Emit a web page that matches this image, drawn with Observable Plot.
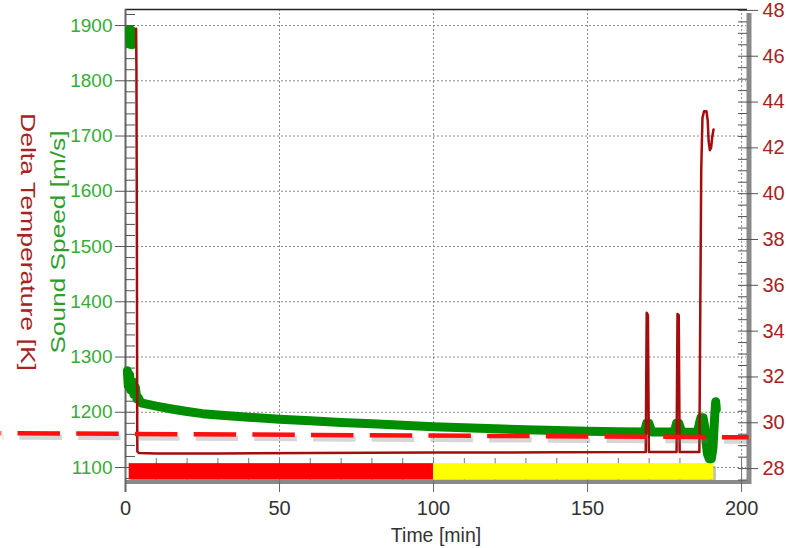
<!DOCTYPE html>
<html><head><meta charset="utf-8">
<script src="https://cdn.jsdelivr.net/npm/d3@7"></script>
<script src="https://cdn.jsdelivr.net/npm/@observablehq/plot@0.6"></script>
<style>body{margin:0;background:#fff;}</style>
</head><body><div id="chart"></div>
<script>
// ---- data ----
// Sound speed [m/s] vs time [min]; null breaks the line
const soundTime  = [1.3, 1.5, 1.75, 2.0, 2.2, null,
  0.6, 0.9, 1.3, 1.7, 2.2, 2.7, 3.2, 3.7, 4.2, 5, 10, 15, 20, 25, 30, 40, 50, 60, 70, 80, 90, 100, 110, 120, 130, 140, 150, 160,
  168.3, 168.8, 169.2, 169.9, 170.4, 170.9, 175, 178.0, 178.5, 178.9, 179.6, 180.1, 180.6, 185,
  185.8, 186.3, 186.8, 187.5, 188.0, 188.4, 188.9, 189.5, 190.2, 190.7, 191.0, 191.3, 191.6, 191.8];
const soundSpeed = [1893, 1866, 1892, 1865, 1890, null,
  1275, 1248, 1268, 1240, 1256, 1232, 1245, 1224, 1226, 1217, 1211, 1206, 1201.5, 1197.5, 1195, 1191, 1187.5, 1184.5, 1181.5, 1179, 1176.5, 1174, 1172, 1170, 1168.5, 1167, 1165.8, 1164.8,
  1164.5, 1172, 1180, 1180, 1172, 1164.3, 1164.2, 1164.2, 1172, 1180, 1180, 1172, 1164, 1163.8,
  1165, 1180, 1190, 1190, 1175, 1150, 1125, 1116, 1116, 1135, 1165, 1195, 1219, 1205];

// Delta temperature [K] vs time [min]
const tempTime  = [3.45, 3.55, 3.7, 3.8, 3.85, 4.3, 10, 30, 60, 100, 140, 168.9,
  169.2, 169.6, 169.9, 178.9, 179.2, 179.6, 179.9, 186.3,
  186.6, 186.9, 187.3, 187.8, 188.6, 189.0, 189.3, 189.7, 190.1, 190.5, 190.9];
const tempDelta = [47.2, 45.5, 38, 30, 28.75, 28.68, 28.66, 28.66, 28.68, 28.7, 28.71, 28.72,
  34.8, 34.7, 28.72, 28.72, 34.75, 34.7, 28.72, 28.72,
  35, 41, 43.3, 43.6, 43.6, 43.2, 42.3, 41.9, 42.0, 42.5, 42.8];

// process phases along the bottom
const phaseStart = [1.2, 100];
const phaseEnd   = [100, 191];
const phaseFill  = ["#ff0000", "#ffff00"];

// dashed threshold annotation (in sound-speed units)
const thresholdTime  = [-40.6, 202.3];
const thresholdValue = [1162.2, 1154.6];

// axes
const xDomain = [0, 201.6];
const speedDomain = [1076.5, 1929];
const tempDomain = [27.48, 48.04];
const xMajor = [0, 50, 100, 150, 200];
const xGrid = [50, 100, 150, 200];
const xMinor = d3.range(0, 201, 10);
const speedMajor = [1100, 1200, 1300, 1400, 1500, 1600, 1700, 1800, 1900];
const speedMinor = d3.range(1080, 1921, 20);
const tempMajor = [28, 30, 32, 34, 36, 38, 40, 42, 44, 46, 48];
const tempMinor = d3.range(27.5, 48.01, 0.5);

// ---- build ----
const toS = t => speedDomain[0] + (t - tempDomain[0]) / (tempDomain[1] - tempDomain[0]) * (speedDomain[1] - speedDomain[0]);
const toT = s => tempDomain[0] + (s - speedDomain[0]) / (speedDomain[1] - speedDomain[0]) * (tempDomain[1] - tempDomain[0]);

const sound = soundTime.map((t, i) => ({t, v: soundSpeed[i]}));
const temp = tempTime.map((t, i) => ({t, v: toS(tempDelta[i])}));
const phases = phaseStart.map((s, i) => ({s, e: phaseEnd[i], fill: phaseFill[i]}));
const threshold = thresholdTime.map((t, i) => ({t, v: thresholdValue[i]}));

const chart = Plot.plot({
  width: 786, height: 548,
  marginLeft: 125, marginRight: 40, marginTop: 9, marginBottom: 68,
  style: {fontFamily: "'Liberation Sans', Arial, sans-serif", background: "#fff", overflow: "visible"},
  x: {domain: xDomain},
  y: {domain: speedDomain},
  marks: [
    Plot.gridY(speedMajor, {stroke: "#8c8c8c", strokeOpacity: 1, strokeDasharray: "2,2"}),
    Plot.gridX(xGrid, {stroke: "#8c8c8c", strokeOpacity: 1, strokeDasharray: "2,2"}),
    // frame shadow & borders
    Plot.ruleX([xDomain[1]], {stroke: "#8a8a8a", strokeWidth: 5, dx: 2.5, insetTop: 4, insetBottom: -4}),
    Plot.ruleY([speedDomain[0]], {stroke: "#8a8a8a", strokeWidth: 4, dy: 1.5, insetRight: -5}),
    Plot.ruleY([speedDomain[1]], {stroke: "#222", strokeWidth: 1.6, insetRight: -1}),
    Plot.ruleX([0], {stroke: "#666", strokeWidth: 2, insetBottom: -12}),
    // axes
    Plot.axisX(xMinor, {anchor: "bottom", tickSize: 22, dy: -22, fill: "none", stroke: "#777", label: null}),
    Plot.axisX(xMajor, {anchor: "bottom", tickSize: 12, tickPadding: 8, fontSize: 20, fill: "#333", stroke: "#666", label: null,
      tickFormat: d => String(d)}),
    Plot.axisY(speedMinor, {anchor: "left", tickSize: 10, dx: 10, fill: "none", stroke: "#555", label: null}),
    Plot.axisY(speedMajor, {anchor: "left", tickSize: 10, tickPadding: 3, fontSize: 19, fill: "#36ac36", stroke: "#555", label: null,
      tickFormat: d => String(d)}),
    Plot.axisY(tempMinor.map(toS), {anchor: "right", tickSize: 9, dx: -9, fill: "none", stroke: "#555", label: null}),
    Plot.axisY(tempMajor.map(toS), {anchor: "right", tickSize: 11, tickPadding: 5, fontSize: 20, fill: "#a82222", stroke: "#555", label: null,
      tickFormat: d => String(Math.round(toT(d)))}),
    // phase bar
    Plot.rect(phases, {x1: "s", x2: "e", y1: 1077.5, y2: 1107, fill: "#888", fillOpacity: 0.55, dx: 2.5, dy: 3}),
    Plot.rect(phases, {x1: "s", x2: "e", y1: 1077.5, y2: 1107, fill: "fill"}),
    // series
    Plot.line(sound, {x: "t", y: "v", stroke: "#008d00", strokeWidth: 9}),
    Plot.line(temp, {x: "t", y: "v", stroke: "#a30d0d", strokeWidth: 2.5}),
    // dashed threshold
    Plot.line(threshold, {x: "t", y: "v", stroke: "#777", strokeOpacity: 0.3, strokeWidth: 5, dx: 2, dy: 4,
      strokeDasharray: "42.5,16.2", strokeDashoffset: 41.6, strokeLinecap: "butt"}),
    Plot.line(threshold, {x: "t", y: "v", stroke: "#ff1010", strokeWidth: 4.5,
      strokeDasharray: "42.5,16.2", strokeDashoffset: 41.6, strokeLinecap: "butt"}),
    // axis titles
    Plot.text(["Delta Temperature [K]"], {text: d => d, frameAnchor: "left", textAnchor: "middle", dx: -98, dy: -3, rotate: 90, fontSize: 21, fill: "#a52323"}),
    Plot.text(["Sound Speed [m/s]"], {text: d => d, frameAnchor: "left", textAnchor: "middle", dx: -67, dy: -3, rotate: -90, fontSize: 21, fill: "#2f9e2f"}),
    Plot.text(["Time [min]"], {text: d => d, frameAnchor: "bottom", dy: 61, fontSize: 19.5, fill: "#333"})
  ]
});

d3.select(chart).selectAll("text").each(function () {
  const s = this.textContent;
  if (s === "Delta Temperature [K]") d3.select(this).attr("textLength", 258).attr("lengthAdjust", "spacingAndGlyphs");
  if (s === "Sound Speed [m/s]") d3.select(this).attr("textLength", 223).attr("lengthAdjust", "spacingAndGlyphs");
});

document.getElementById("chart").appendChild(chart);
</script>
</body></html>
